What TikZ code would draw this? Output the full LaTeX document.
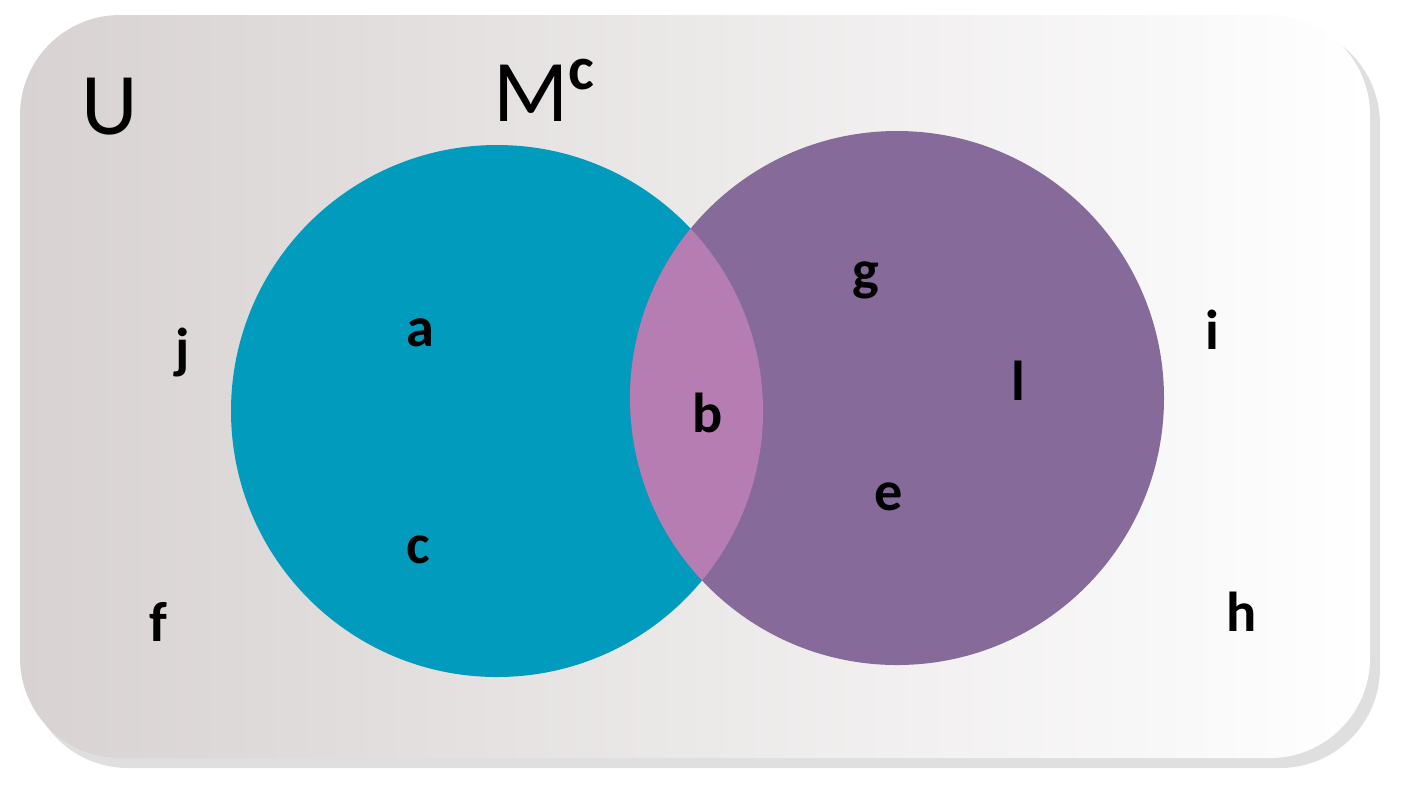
\documentclass[tikz,border=0pt]{standalone}
\usepackage{fontspec}
\setmainfont{Carlito}
\usepackage{tikz}
\definecolor{setM}{HTML}{009BBD}
\definecolor{setN}{HTML}{856A9A}
\definecolor{both}{HTML}{B67DB2}
\definecolor{uleft}{HTML}{D8D2D2}
\begin{document}
\begin{tikzpicture}[x=0.01cm,y=-0.01cm]
\tikzset{
    elem/.style={%
        font=\fontsize{16}{19}\selectfont\bfseries,
        inner sep=0pt
        },
    big/.style={%
        font=\fontsize{25}{30}\selectfont,
        inner sep=0pt
        },
}
\useasboundingbox (0,0) rectangle (1409,793);
%%%UNIVERSE
\fill[black!25, opacity=0.5, rounded corners=1cm] (28,24) rectangle (1380,768);
\shade[left color=uleft, right color=white, rounded corners=1cm]
    (20,15) rectangle (1370,758);
%%%SETS
\fill[setM] (497,411) circle (266);
\fill[setN] (897,398) circle (267);
\begin{scope}
\clip (497,411) circle (266);
\fill[both] (897,398) circle (267);
\end{scope}
%%%LABELS
\node[big] (U) at (110,107) {U};
\node[big] (Mc) at (545,90) {M\textsuperscript{\bfseries c}};
\node[elem] (a) at (420,333) {a};
\node[elem] (c) at (418,550) {c};
\node[elem] (b) at (708,413) {b};
\node[elem] (g) at (866,280) {g};
\node[elem] (l) at (1018,381) {l};
\node[elem] (e) at (889,497) {e};
\node[elem] (j) at (183,352) {j};
\node[elem] (f) at (158,622) {f};
\node[elem] (i) at (1212,330) {i};
\node[elem] (h) at (1242,612) {h};
\end{tikzpicture}
\end{document}
